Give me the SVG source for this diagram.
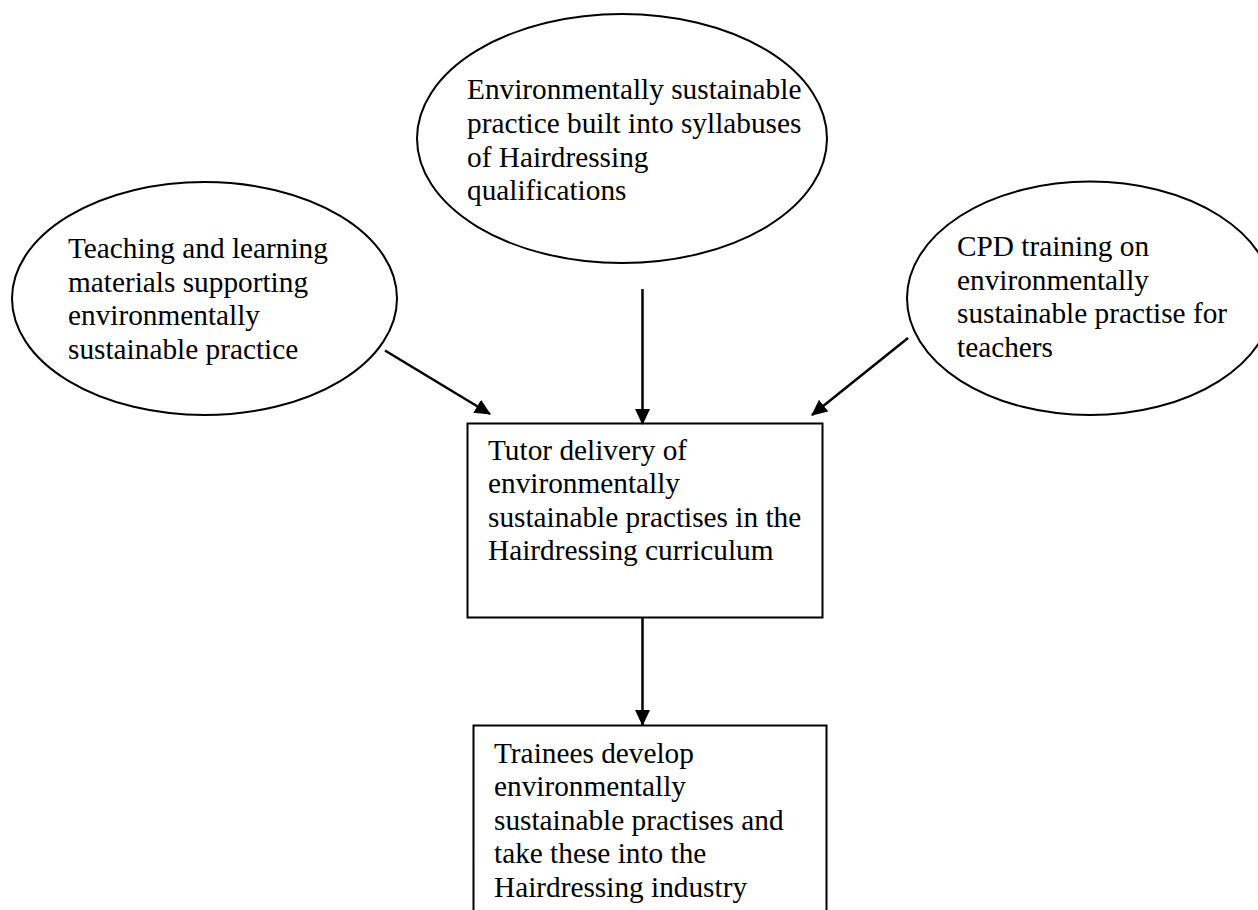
<svg xmlns="http://www.w3.org/2000/svg" width="1258" height="910" viewBox="0 0 1258 910">
<style>
.shape{fill:#fff;stroke:#000;stroke-width:2}
.t{font-family:"Liberation Serif","Times New Roman",serif;font-size:29.3px;fill:#000}
.c{stroke:#000;stroke-width:2.5;fill:none}
</style>
<defs>
<marker id="ah" markerWidth="16" markerHeight="15" refX="15" refY="7.5" orient="auto" markerUnits="userSpaceOnUse">
<path d="M0,0 L16,7.5 L0,15 Z" fill="#000"/>
</marker>
</defs>
<rect width="1258" height="910" fill="#fff"/>
<g id="node-top">
<ellipse class="shape" cx="622" cy="138.5" rx="205" ry="124.5"/>
<text class="t" x="467" y="99.3">Environmentally sustainable</text>
<text class="t" x="467" y="133">practice built into syllabuses</text>
<text class="t" x="467" y="166.7">of Hairdressing</text>
<text class="t" x="467" y="200">qualifications</text>
</g>
<g id="node-left">
<ellipse class="shape" cx="204.5" cy="298.5" rx="192.5" ry="116.5"/>
<text class="t" x="68" y="258">Teaching and learning</text>
<text class="t" x="68" y="291.5">materials supporting</text>
<text class="t" x="68" y="325">environmentally</text>
<text class="t" x="68" y="358.5">sustainable practice</text>
</g>
<g id="node-right">
<ellipse class="shape" cx="1090" cy="298.3" rx="183" ry="116.7"/>
<text class="t" x="957" y="256">CPD training on</text>
<text class="t" x="957" y="289.5">environmentally</text>
<text class="t" x="957" y="323">sustainable practise for</text>
<text class="t" x="957" y="356.5">teachers</text>
</g>
<g id="node-center">
<rect class="shape" x="467.5" y="423.5" width="355" height="194"/>
<text class="t" x="488" y="459.5">Tutor delivery of</text>
<text class="t" x="488" y="493.3">environmentally</text>
<text class="t" x="488" y="526.8">sustainable practises in the</text>
<text class="t" x="488" y="560.3">Hairdressing curriculum</text>
</g>
<g id="node-bottom">
<rect class="shape" x="473.5" y="725.5" width="353" height="200"/>
<text class="t" x="494" y="762.5">Trainees develop</text>
<text class="t" x="494" y="796">environmentally</text>
<text class="t" x="494" y="829.7">sustainable practises and</text>
<text class="t" x="494" y="863.3">take these into the</text>
<text class="t" x="494" y="897">Hairdressing industry</text>
</g>
<g id="connectors">
<line class="c" x1="385" y1="350.5" x2="490" y2="414" marker-end="url(#ah)"/>
<line class="c" x1="642.5" y1="289" x2="642.5" y2="424" marker-end="url(#ah)"/>
<line class="c" x1="908" y1="338" x2="812" y2="415" marker-end="url(#ah)"/>
<line class="c" x1="642.5" y1="617" x2="642.5" y2="725" marker-end="url(#ah)"/>
</g>
</svg>
